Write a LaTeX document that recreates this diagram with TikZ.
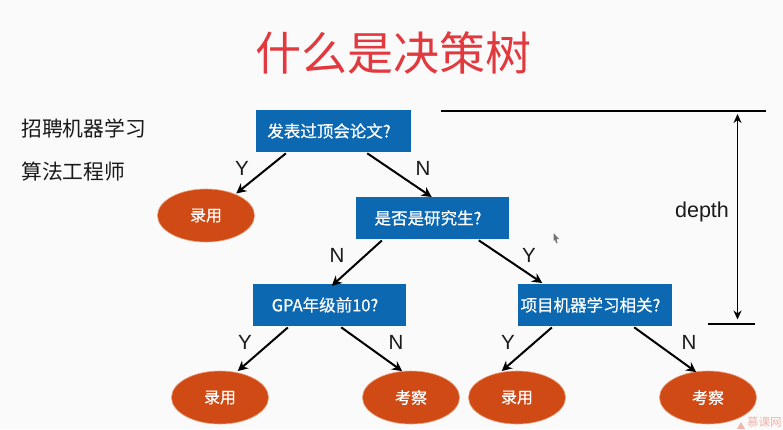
\documentclass[tikz,border=0pt]{standalone}
\usepackage{fontspec}
\setmainfont{Liberation Sans}
\newfontfamily\cjk{Noto Sans CJK SC}
\newfontfamily\cjkm[FakeBold=0.6]{Noto Sans CJK SC}
\usetikzlibrary{shapes.geometric,arrows.meta}
\definecolor{boxblue}{HTML}{0B68B1}
\definecolor{leaforange}{HTML}{CF4A15}
\definecolor{leafedge}{HTML}{EC9A72}
\definecolor{titlered}{HTML}{E2393F}
\definecolor{bgpaper}{HTML}{FAFAFA}
\definecolor{inkblack}{HTML}{1A1A1A}
\definecolor{markpale}{HTML}{EFB7AE}
\tikzset{
  x=1pt,y=-1pt,
  qbox/.style={fill=boxblue,text=white,minimum width=#1,minimum height=42.5pt,inner sep=0pt,font=\cjkm\fontsize{16.5}{16.5}\selectfont,execute at end node={\hspace{9pt}}},
  leaf/.style={ellipse,fill=leaforange,draw=leafedge,line width=0.6pt,text=white,minimum width=97pt,minimum height=53pt,inner sep=0pt,font=\cjkm\fontsize{16}{16}\selectfont},
  link/.style={draw=black,line width=2pt,-{Stealth[length=10pt,width=10pt]},shorten >=1pt,shorten <=1.5pt},
  lab/.style={font=\fontsize{20.5}{20.5}\selectfont,text=inkblack,inner sep=0pt},
  side/.style={font=\cjk\fontsize{20.8}{20.8}\selectfont,text=inkblack,inner sep=0pt,anchor=west},
}
\begin{document}
\begin{tikzpicture}
\fill[bgpaper] (0,0) rectangle (783,429);
\useasboundingbox (0,0) rectangle (783,429);
\node[font=\cjk\fontsize{46}{46}\selectfont,text=titlered,inner sep=0pt] (title) at (393,53) {什么是决策树};
\node[side] (s1) at (21,128) {招聘机器学习};
\node[side] (s2) at (21,172) {算法工程师};
\node[qbox=155pt] (b1) at (333.5,131) {发表过顶会论文?};
\node[qbox=153pt] (b2) at (432.5,218) {是否是研究生?};
\node[qbox=153pt] (b3) at (329.5,305) {GPA年级前10?};
\node[qbox=154pt] (b4) at (595,305) {项目机器学习相关?};
\node[leaf] (e1) at (206,215.5) {录用};
\node[leaf] (e2) at (220,397.5) {录用};
\node[leaf] (e3) at (411,397.5) {考察};
\node[leaf] (e4) at (517,397.5) {录用};
\node[leaf] (e5) at (708,397.5) {考察};
\draw[link] ([xshift=-46.5pt]b1.south) -- (e1.36);
\draw[link] ([xshift=32.5pt]b1.south) -- ([yshift=-1pt]b2.north);
\draw[link] ([xshift=-49.5pt]b2.south) -- ([xshift=1.5pt,yshift=-3pt]b3.north);
\draw[link] ([xshift=45pt]b2.south) -- ([xshift=-52pt]b4.north);
\draw[link] ([xshift=-40.5pt]b3.south) -- ([xshift=17pt,yshift=-1pt]e2.north);
\draw[link] ([xshift=10.5pt]b3.south) -- ([xshift=-8pt,yshift=-1pt]e3.north);
\draw[link] ([xshift=-42pt]b4.south) -- ([xshift=-16pt,yshift=-1pt]e4.north);
\draw[link] ([xshift=38pt]b4.south) -- ([xshift=-11pt,yshift=-2pt]e5.north);
\node[lab] (ly1) at (242,168) {Y};
\node[lab] (ln1) at (423,168) {N};
\node[lab] (ln2) at (337,255) {N};
\node[lab] (ly2) at (529,255) {Y};
\node[lab] (ly3) at (245,342) {Y};
\node[lab] (ln3) at (396,342) {N};
\node[lab] (ly4) at (508,342) {Y};
\node[lab] (ln4) at (689,342) {N};
\coordinate (tl) at (441,110.5);
\coordinate (tr) at (766,110.5);
\coordinate (bl) at (708,323.5);
\coordinate (br) at (755,323.5);
\coordinate (at) at (737.5,110.5);
\coordinate (ab) at (737.5,323.5);
\draw[black,line width=2pt] (tl) -- (tr);
\draw[black,line width=2pt] (bl) -- (br);
\draw[black,line width=1.5pt,{Stealth[length=9pt,width=8pt]}-{Stealth[length=9pt,width=8pt]},shorten >=4pt,shorten <=3.5pt] (at) -- (ab);
\node[font=\fontsize{21.5}{21.5}\selectfont,text=inkblack,inner sep=0pt] (depth) at (702,212) {depth};
\fill[black!55] (553.5,233) -- (559,239) -- (556.5,239) -- (557.5,243) -- (556,243) -- (555,239.5) -- (553.5,241) -- cycle;
\fill[markpale] (737,429) -- (741,422) -- (745,429) -- cycle;
\node[font=\cjk\fontsize{11.5}{11.5}\selectfont,text=markpale,inner sep=0pt,anchor=west] (mark) at (747,422.5) {慕课网};
\end{tikzpicture}
\end{document}
